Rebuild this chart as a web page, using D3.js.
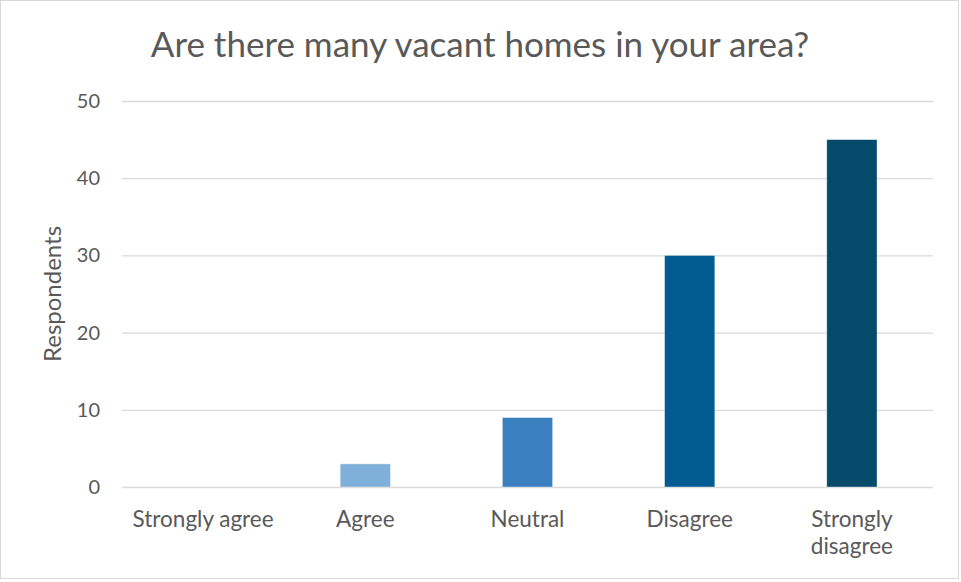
<!DOCTYPE html>
<html><head><meta charset="utf-8">
<script src="https://cdn.jsdelivr.net/npm/d3@7"></script>
<style>html,body{margin:0;padding:0;background:#fff;}svg{display:block;}</style>
</head><body>
<script>
const categories = ["Strongly agree", "Agree", "Neutral", "Disagree", "Strongly disagree"];
const values = [0, 3, 9, 30, 45];
const colors = ["#a9cbe8", "#7fb0d9", "#3a80bf", "#005c91", "#034a6b"];
const yTicks = [0, 10, 20, 30, 40, 50];
const title = "Are there many vacant homes in your area?";
const yLabel = "Respondents";

const W = 961, H = 582;
const font = "Lato, 'Open Sans', sans-serif";
const textColor = "#595959";
const m = {left: 122, right: 28, top: 101, bottom: 95};

const svg = d3.select("body").append("svg").attr("width", W).attr("height", H);
svg.append("rect").attr("x", 0.5).attr("y", 0.5).attr("width", W - 3).attr("height", H - 4)
  .attr("fill", "#fff").attr("stroke", "#d9d9d9");

const x = d3.scaleBand().domain(categories).range([m.left, W - m.right]).paddingInner(0.69).paddingOuter(0.345);
const y = d3.scaleLinear().domain([0, 50]).range([H - m.bottom, m.top]);

// grid
const gy = svg.append("g").attr("transform", `translate(${m.left},0)`)
  .call(d3.axisLeft(y).tickValues(yTicks).tickSize(-(W - m.right - m.left)).tickPadding(22));
gy.select(".domain").remove();
gy.selectAll(".tick line").attr("stroke", "#d9d9d9").attr("stroke-width", 1.3);
gy.selectAll(".tick text").attr("fill", textColor).style("font-family", font).style("font-size", "20px");

// bars
svg.append("g").selectAll("rect").data(categories).join("rect")
  .attr("x", d => x(d)).attr("width", x.bandwidth())
  .attr("y", (d, i) => y(values[i])).attr("height", (d, i) => y(0) - y(values[i]))
  .attr("fill", (d, i) => colors[i])
  .attr("stroke", "#ffffff").attr("stroke-opacity", 0.5).attr("stroke-width", 0.8);

// x axis labels
const gx = svg.append("g").attr("transform", `translate(0,${y(0)})`)
  .call(d3.axisBottom(x).tickSize(0).tickPadding(0));
gx.select(".domain").remove();
gx.selectAll(".tick text").remove();
gx.selectAll(".tick").each(function(d) {
  const t = d3.select(this).append("text").attr("fill", textColor).attr("text-anchor", "middle")
    .style("font-family", font).style("font-size", "22.5px");
  const lines = d === "Strongly disagree" ? ["Strongly", "disagree"] : [d];
  lines.forEach((ln, i) => t.append("tspan").attr("x", 0).attr("y", 40 + i * 27).text(ln));
});

// title
svg.append("text").attr("x", 480).attr("y", 57).attr("text-anchor", "middle")
  .attr("fill", textColor).style("font-family", font).style("font-size", "35px").text(title);

// y label
svg.append("text").attr("transform", `translate(61,${(y(0) + y(50)) / 2}) rotate(-90)`)
  .attr("text-anchor", "middle").attr("fill", textColor)
  .style("font-family", font).style("font-size", "24px").text(yLabel);
</script>
</body></html>
